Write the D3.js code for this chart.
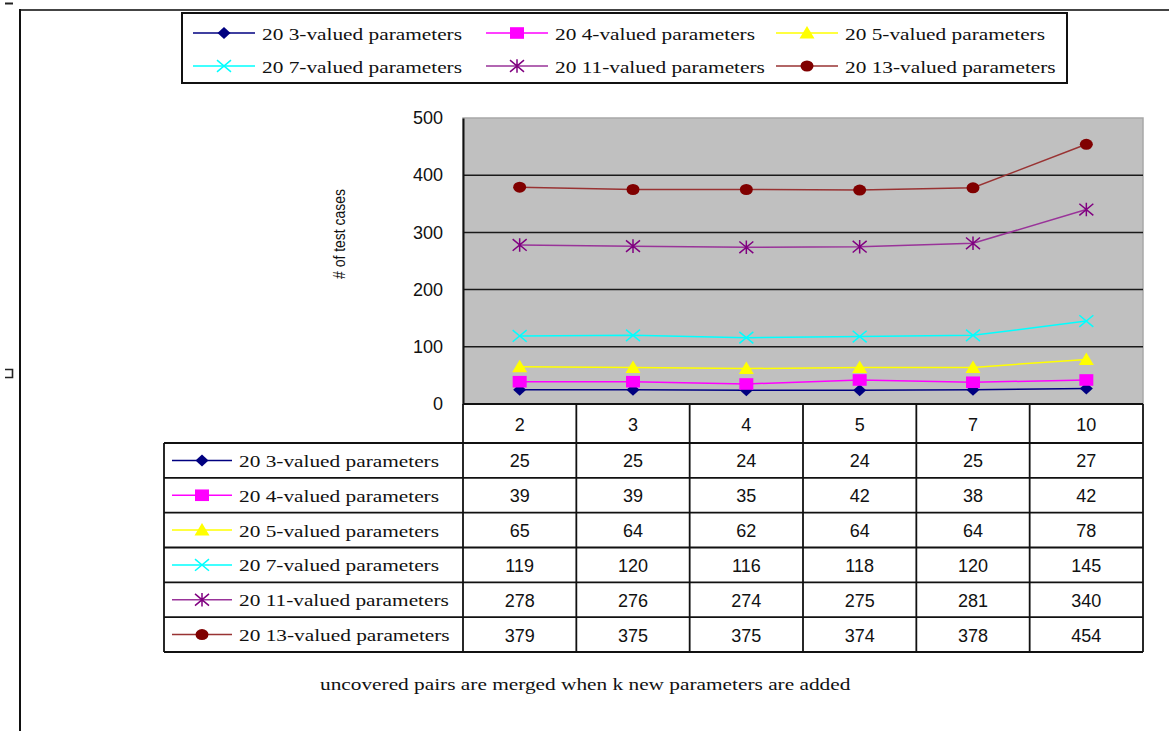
<!DOCTYPE html>
<html>
<head>
<meta charset="utf-8">
<script src="https://cdn.jsdelivr.net/npm/d3@7"></script>
<style>
  html, body { margin: 0; padding: 0; background: #fff; }
  svg { display: block; }
</style>
</head>
<body>
<script>
// ---- data ----
const categories = ["2", "3", "4", "5", "7", "10"];
const seriesNames = [
  "20 3-valued parameters",
  "20 4-valued parameters",
  "20 5-valued parameters",
  "20 7-valued parameters",
  "20 11-valued parameters",
  "20 13-valued parameters"
];
const values3 = [25, 25, 24, 24, 25, 27];
const values4 = [39, 39, 35, 42, 38, 42];
const values5 = [65, 64, 62, 64, 64, 78];
const values7 = [119, 120, 116, 118, 120, 145];
const values11 = [278, 276, 274, 275, 281, 340];
const values13 = [379, 375, 375, 374, 378, 454];
const yTicks = [0, 100, 200, 300, 400, 500];
const yTitle = "# of test cases";
const caption = "uncovered pairs are merged when k new parameters are added";

// ---- styles ----
const lineColors = ["#000080", "#ff00ff", "#ffff00", "#00ffff", "#993399", "#993333"];
const markColors = ["#000080", "#ff00ff", "#ffff00", "#00ffff", "#800080", "#800000"];
const markTypes = ["diamond", "square", "triangle", "x", "star", "circle"];
const allValues = [values3, values4, values5, values7, values11, values13];

const series = seriesNames.map((name, i) => ({
  name, values: allValues[i], line: lineColors[i], mark: markColors[i], type: markTypes[i]
}));

const W = 1169, H = 731;
const serif = "'Liberation Serif', 'Times New Roman', serif";
const sans = "'Liberation Sans', Arial, sans-serif";

const svg = d3.select("body").append("svg").attr("width", W).attr("height", H);
svg.append("rect").attr("width", W).attr("height", H).attr("fill", "#fff");

// page frame
svg.append("line").attr("x1", 20).attr("x2", W).attr("y1", 10).attr("y2", 10)
  .attr("stroke", "#444").attr("stroke-width", 2);
svg.append("line").attr("x1", 20).attr("x2", 20).attr("y1", 9).attr("y2", H)
  .attr("stroke", "#111").attr("stroke-width", 2);
svg.append("path").attr("d", "M5,3.5H13").attr("stroke", "#222").attr("stroke-width", 2).attr("fill", "none");
svg.append("path").attr("d", "M5,369.5H12.5V377.5H5").attr("stroke", "#222").attr("stroke-width", 1.6).attr("fill", "none");

// ---- scales ----
const plot = { left: 463, right: 1143, top: 118, bottom: 404 };
const x = d3.scaleBand().domain(categories).range([plot.left, plot.right]).paddingInner(0).paddingOuter(0);
const y = d3.scaleLinear().domain([0, 500]).range([plot.bottom, plot.top]);

// plot area
svg.append("rect").attr("x", plot.left).attr("y", plot.top)
  .attr("width", plot.right - plot.left).attr("height", plot.bottom - plot.top)
  .attr("fill", "#c0c0c0").attr("stroke", "#a8a8a8").attr("stroke-width", 1.5);

// gridlines
svg.append("g").selectAll("line").data(yTicks.filter(d => d > 0 && d < 500)).join("line")
  .attr("x1", plot.left).attr("x2", plot.right)
  .attr("y1", d => y(d)).attr("y2", d => y(d))
  .attr("stroke", "#1a1a1a").attr("stroke-width", 1.5);

// y axis
const yAxis = d3.axisLeft(y).tickValues(yTicks).tickSize(0).tickPadding(20);
const gy = svg.append("g").attr("transform", `translate(${plot.left},0)`).call(yAxis);
gy.select(".domain").attr("stroke", "#111").attr("stroke-width", 2);
gy.selectAll("text").attr("font-family", sans).attr("font-size", 18).attr("fill", "#111");

// y axis title
svg.append("text")
  .attr("transform", "translate(345,234) rotate(-90)")
  .attr("text-anchor", "middle")
  .attr("font-family", "'Liberation Sans Narrow', 'Arial Narrow', " + sans)
  .attr("font-size", 16)
  .attr("fill", "#111")
  .attr("textLength", 90).attr("lengthAdjust", "spacingAndGlyphs")
  .text(yTitle);

// ---- markers ----
function drawMarker(g, type, cx, cy, color) {
  const hw = 7, hh = 5.8;
  if (type === "diamond") {
    g.append("path").attr("d", `M${cx},${cy - 6}L${cx + 6.5},${cy}L${cx},${cy + 6}L${cx - 6.5},${cy}Z`).attr("fill", color);
  } else if (type === "square") {
    g.append("rect").attr("x", cx - hw).attr("y", cy - hh).attr("width", 2 * hw).attr("height", 2 * hh).attr("fill", color);
  } else if (type === "triangle") {
    g.append("path").attr("d", `M${cx},${cy - 7}L${cx + 7.5},${cy + 5.5}L${cx - 7.5},${cy + 5.5}Z`).attr("fill", color);
  } else if (type === "x") {
    g.append("path").attr("d", `M${cx - hw},${cy - hh}L${cx + hw},${cy + hh}M${cx - hw},${cy + hh}L${cx + hw},${cy - hh}`)
      .attr("stroke", color).attr("stroke-width", 1.5).attr("fill", "none");
  } else if (type === "star") {
    g.append("path").attr("d", `M${cx - hw},${cy - hh}L${cx + hw},${cy + hh}M${cx - hw},${cy + hh}L${cx + hw},${cy - hh}M${cx},${cy - hh - 1}L${cx},${cy + hh + 1}`)
      .attr("stroke", color).attr("stroke-width", 1.5).attr("fill", "none");
  } else if (type === "circle") {
    g.append("ellipse").attr("cx", cx).attr("cy", cy).attr("rx", 6.5).attr("ry", 5.5).attr("fill", color);
  }
}

// ---- series ----
const cx = c => x(c) + x.bandwidth() / 2;
const line = d3.line().x((d, i) => cx(categories[i])).y(d => y(d));
series.forEach(s => {
  const g = svg.append("g");
  g.append("path").attr("d", line(s.values)).attr("fill", "none")
    .attr("stroke", s.line).attr("stroke-width", 1.5);
  s.values.forEach((v, i) => drawMarker(g, s.type, cx(categories[i]), y(v), s.mark));
});

// ---- label widths ----
const labelFont = 16;
const probe = svg.append("text").attr("font-family", serif).attr("font-size", labelFont).text(seriesNames[0]);
const k = 200 / probe.node().getComputedTextLength();
probe.remove();
function serifText(sel) {
  sel.attr("font-family", serif).attr("font-size", labelFont).attr("fill", "#111")
    .attr("lengthAdjust", "spacingAndGlyphs")
    .each(function () { this.setAttribute("textLength", this.getComputedTextLength() * k); });
}

// ---- data table ----
const tableLeft = 164, headTop = plot.bottom, headBottom = 443, tableBottom = 652;
const row = d3.scaleBand().domain(d3.range(series.length)).range([headBottom, tableBottom]);
const tg = svg.append("g");
const tStroke = "#111", tWidth = 1.8;

// header values
tg.selectAll("text.head").data(categories).join("text")
  .attr("x", d => cx(d)).attr("y", (headTop + headBottom) / 2 + 1)
  .attr("text-anchor", "middle").attr("dominant-baseline", "central")
  .attr("font-family", sans).attr("font-size", 18).attr("fill", "#111")
  .text(d => d);

// cell values
series.forEach((s, r) => {
  const yc = row(r) + row.bandwidth() / 2 + 1;
  tg.append("g").selectAll("text").data(s.values).join("text")
    .attr("x", (d, i) => cx(categories[i])).attr("y", yc)
    .attr("text-anchor", "middle").attr("dominant-baseline", "central")
    .attr("font-family", sans).attr("font-size", 18).attr("fill", "#111")
    .text(d => d);
  // legend key in the row
  const kg = tg.append("g");
  kg.append("line").attr("x1", 172).attr("x2", 232).attr("y1", yc - 1).attr("y2", yc - 1)
    .attr("stroke", s.line).attr("stroke-width", 1.5);
  drawMarker(kg, s.type, 202, yc - 1, s.mark);
  kg.append("text").attr("x", 239).attr("y", yc).attr("dominant-baseline", "central")
    .text(s.name).call(serifText);
});

// table rules
const hLines = [headBottom, ...d3.range(1, series.length).map(r => row(r)), tableBottom];
tg.selectAll("line.h").data(hLines).join("line")
  .attr("x1", tableLeft).attr("x2", plot.right).attr("y1", d => d).attr("y2", d => d)
  .attr("stroke", tStroke).attr("stroke-width", tWidth);
tg.append("line").attr("x1", plot.left).attr("x2", plot.right).attr("y1", headTop).attr("y2", headTop)
  .attr("stroke", tStroke).attr("stroke-width", tWidth);
const vLines = [...categories.map(c => x(c)), plot.right];
tg.selectAll("line.v").data(vLines).join("line")
  .attr("x1", d => d).attr("x2", d => d).attr("y1", headTop).attr("y2", tableBottom)
  .attr("stroke", tStroke).attr("stroke-width", tWidth);
tg.append("line").attr("x1", tableLeft).attr("x2", tableLeft).attr("y1", headBottom).attr("y2", tableBottom)
  .attr("stroke", tStroke).attr("stroke-width", tWidth);

// ---- legend ----
const lg = svg.append("g");
lg.append("rect").attr("x", 182).attr("y", 13).attr("width", 885).attr("height", 70)
  .attr("fill", "#fff").attr("stroke", "#111").attr("stroke-width", 2);
const legCols = [193, 486, 776], legRows = [33, 66];
series.forEach((s, i) => {
  const lx = legCols[i % 3], ly = legRows[Math.floor(i / 3)];
  lg.append("line").attr("x1", lx).attr("x2", lx + 62).attr("y1", ly).attr("y2", ly)
    .attr("stroke", s.line).attr("stroke-width", 1.5);
  drawMarker(lg, s.type, lx + 31, ly, s.mark);
  lg.append("text").attr("x", lx + 69).attr("y", ly + 1).attr("dominant-baseline", "central")
    .text(s.name).call(serifText);
});

// ---- caption ----
svg.append("text").attr("x", 320).attr("y", 684).attr("dominant-baseline", "central")
  .text(caption).call(serifText);
</script>
</body>
</html>
